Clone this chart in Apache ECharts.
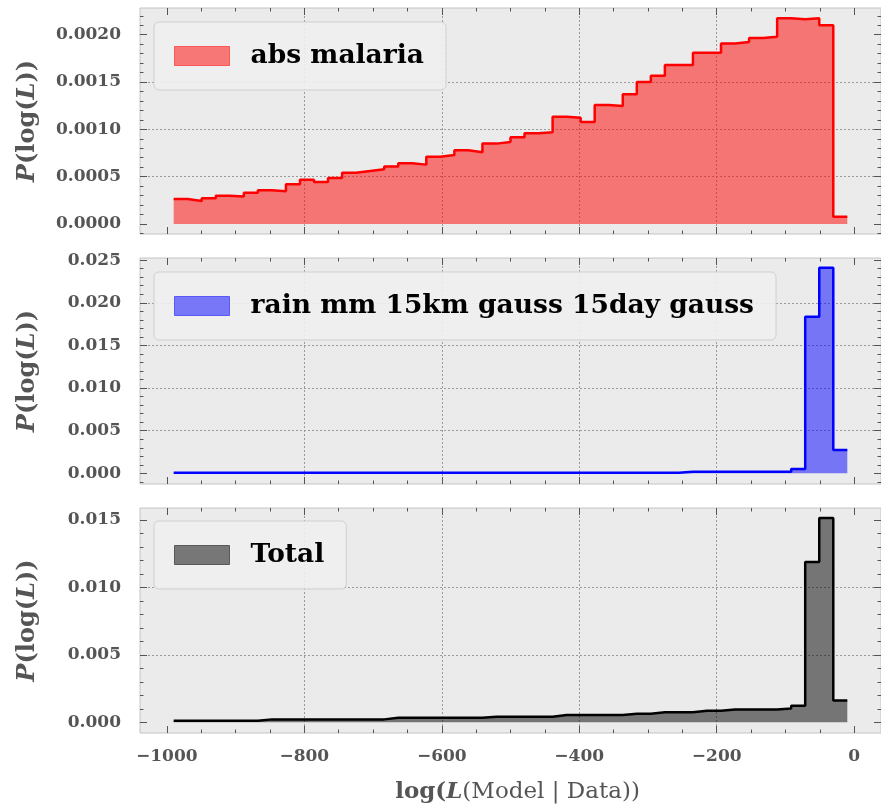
<!DOCTYPE html>
<html>
<head>
<meta charset="utf-8">
<script src="https://cdn.jsdelivr.net/npm/echarts@6/dist/echarts.min.js"></script>
<style>
  html, body { margin: 0; padding: 0; background: #fff; }
  #chart { width: 881px; height: 805px; }
</style>
</head>
<body>
<div id="chart"></div>
<script>
// histogram bins: 48 bins between -990 and -10
const binMin = -990
const binMax = -10
const binCount = 48

const malaria = [
  0.000264, 0.000243, 0.000271, 0.000299, 0.000289, 0.000331, 0.000356, 0.000345,
  0.000419, 0.000468, 0.000444, 0.000486, 0.000542, 0.000560, 0.000577, 0.000606,
  0.000641, 0.000627, 0.000711, 0.000729, 0.000778, 0.000757, 0.000849, 0.000866,
  0.000915, 0.000958, 0.000968, 0.001134, 0.001123, 0.001077, 0.001257, 0.001246,
  0.001370, 0.001500, 0.001567, 0.001680, 0.001680, 0.001810, 0.001810, 0.001908,
  0.001923, 0.001965, 0.001979, 0.002173, 0.002162, 0.002173, 0.002099, 0.0000775
]
const rain = [
  0.00008, 0.00008, 0.00008, 0.00008, 0.00008, 0.00008, 0.00008, 0.00008,
  0.00008, 0.00008, 0.00008, 0.00008, 0.00008, 0.00008, 0.00008, 0.00008,
  0.00008, 0.00008, 0.00008, 0.00008, 0.00008, 0.00008, 0.00008, 0.00008,
  0.00008, 0.00008, 0.00008, 0.00008, 0.00008, 0.00008, 0.00008, 0.00008,
  0.00008, 0.00008, 0.00008, 0.00008, 0.0002, 0.0002, 0.0002, 0.0002,
  0.0002, 0.0002, 0.0002, 0.0002, 0.00052, 0.01836, 0.0241, 0.00273
]
const total = [
  0.00012, 0.00012, 0.00012, 0.00012, 0.00012, 0.00012, 0.00022, 0.00022,
  0.00022, 0.00022, 0.00022, 0.00022, 0.00022, 0.00022, 0.00022, 0.00034,
  0.00034, 0.00034, 0.00034, 0.00034, 0.00034, 0.00034, 0.00042, 0.00042,
  0.00042, 0.00042, 0.00042, 0.00054, 0.00054, 0.00054, 0.00054, 0.00054,
  0.00064, 0.00064, 0.00074, 0.00074, 0.00074, 0.00086, 0.00086, 0.00096,
  0.00096, 0.00096, 0.00096, 0.00103, 0.00123, 0.01189, 0.01515, 0.00162
]

const xTicks = [-1000, -800, -600, -400, -200, 0]
const yTicksTop = [0, 0.0005, 0.001, 0.0015, 0.002]
const yTicksMid = [0, 0.005, 0.01, 0.015, 0.02, 0.025]
const yTicksBot = [0, 0.005, 0.01, 0.015]

const xRange = [-1039, 39]
const panels = [
  { name: 'abs malaria', values: malaria, line: '#ff0000', fill: 'rgba(255,0,0,0.5)',
    yRange: [-0.000106, 0.002282], ticks: yTicksTop, minorStep: 0.0001, digits: 4, top: 8, legendTop: 22 },
  { name: 'rain mm 15km gauss 15day gauss', values: rain, line: '#0000ff', fill: 'rgba(0,0,255,0.5)',
    yRange: [-0.00125, 0.02525], ticks: yTicksMid, minorStep: 0.001, digits: 3, top: 258, legendTop: 272 },
  { name: 'Total', values: total, line: '#000000', fill: 'rgba(0,0,0,0.5)',
    yRange: [-0.00079, 0.01589], ticks: yTicksBot, minorStep: 0.001, digits: 3, top: 508, legendTop: 521 }
]

const font = 'DejaVu Serif'
const labelColor = '#555555'
const tickColor = '#555555'

function minorValues(range, step, majors) {
  const out = []
  const start = Math.ceil(range[0] / step)
  const end = Math.floor(range[1] / step)
  for (let k = start; k <= end; k++) {
    const v = +(k * step).toFixed(8)
    if (!majors.some(m => Math.abs(m - v) < step / 100)) out.push(v)
  }
  return out
}

function fmt(v, digits) {
  const s = Math.abs(v).toFixed(digits)
  return v < 0 ? '\u2212' + s : s
}

const edges = []
for (let i = 0; i <= binCount; i++) edges.push(binMin + (binMax - binMin) * i / binCount)

const grids = []
const xAxes = []
const yAxes = []
const series = []
const legends = []

function tickAxis(base, values, len) {
  return Object.assign({}, base, {
    axisLine: { show: false, onZero: false },
    axisTick: { show: true, inside: true, length: len, customValues: values,
      lineStyle: { color: tickColor, width: 1 } },
    axisLabel: { show: false },
    splitLine: { show: false }
  })
}

panels.forEach((p, g) => {
  grids.push({
    left: 140, top: p.top, width: 745, height: 226,
    show: true, backgroundColor: '#ebebeb', borderColor: '#c4c4c4', borderWidth: 1
  })

  const xMinor = minorValues(xRange, 50, xTicks)
  const yMinor = minorValues(p.yRange, p.minorStep, p.ticks)
  const xBase = { type: 'value', gridIndex: g, min: xRange[0], max: xRange[1] }
  const yBase = { type: 'value', gridIndex: g, min: p.yRange[0], max: p.yRange[1] }
  const isLast = g === panels.length - 1

  // main bottom axis: grid lines and (for last panel) labels
  xAxes.push(Object.assign({}, xBase, {
    position: 'bottom',
    splitNumber: 5,
    axisLine: { show: false, onZero: false },
    axisTick: { show: true, inside: true, length: 7, customValues: xTicks,
      lineStyle: { color: tickColor } },
    axisLabel: {
      show: isLast, customValues: xTicks, margin: 15,
      formatter: v => fmt(v, 0),
      fontFamily: font, fontWeight: 'bold', fontSize: 17, color: labelColor
    },
    splitLine: { show: true, showMinLine: false, showMaxLine: false,
      lineStyle: { color: '#9a9a9a', type: [2, 2], width: 1 } },
    name: isLast ? '{b|log(}{bi|L}{r|(Model | Data))}' : '',
    nameLocation: 'middle',
    nameGap: 48,
    nameTextStyle: {
      padding: [0, 0, 0, 14],
      rich: {
        b: { fontFamily: font, fontWeight: 'bold', fontSize: 23, color: labelColor },
        bi: { fontFamily: font, fontWeight: 'bold', fontStyle: 'italic', fontSize: 23, color: labelColor },
        r: { fontFamily: font, fontSize: 23, color: labelColor }
      }
    }
  }))
  xAxes.push(tickAxis(Object.assign({ position: 'bottom' }, xBase), xMinor, 3.5))
  xAxes.push(tickAxis(Object.assign({ position: 'top' }, xBase), xTicks, 7))
  xAxes.push(tickAxis(Object.assign({ position: 'top' }, xBase), xMinor, 3.5))

  yAxes.push(Object.assign({}, yBase, {
    position: 'left',
    axisLine: { show: false, onZero: false },
    axisTick: { show: true, inside: true, length: 7, customValues: p.ticks,
      lineStyle: { color: tickColor } },
    axisLabel: {
      customValues: p.ticks, margin: 19,
      formatter: v => fmt(v, p.digits),
      fontFamily: font, fontWeight: 'bold', fontSize: 17, color: labelColor
    },
    splitLine: { show: true, showMinLine: false, showMaxLine: false,
      lineStyle: { color: '#9a9a9a', type: [2, 2], width: 1 } },
    name: '{bi|P}{b|(log(}{bi|L}{b|))}',
    nameLocation: 'middle',
    nameGap: 100,
    nameRotate: 90,
    nameTextStyle: {
      rich: {
        b: { fontFamily: font, fontWeight: 'bold', fontSize: 24, color: labelColor },
        bi: { fontFamily: font, fontWeight: 'bold', fontStyle: 'italic', fontSize: 24, color: labelColor }
      }
    }
  }))
  yAxes.push(tickAxis(Object.assign({ position: 'left' }, yBase), yMinor, 3.5))
  yAxes.push(tickAxis(Object.assign({ position: 'right' }, yBase), p.ticks, 7))
  yAxes.push(tickAxis(Object.assign({ position: 'right' }, yBase), yMinor, 3.5))

  series.push({
    name: p.name,
    type: 'line',
    xAxisIndex: g * 4,
    yAxisIndex: g * 4,
    step: 'end',
    symbol: 'none',
    silent: true,
    animation: false,
    data: edges.map((e, i) => [e, p.values[Math.min(i, binCount - 1)]]),
    lineStyle: { color: p.line, width: 2.5 },
    itemStyle: { color: p.line },
    areaStyle: { color: p.fill, opacity: 1 }
  })

  legends.push({
    left: 154,
    top: p.legendTop,
    orient: 'vertical',
    selectedMode: false,
    backgroundColor: 'rgba(240,240,240,0.9)',
    borderColor: '#cfcfcf',
    borderWidth: 1,
    borderRadius: 5,
    padding: [19, 22, 19, 20],
    itemWidth: 55,
    itemHeight: 19,
    data: [{
      name: p.name,
      icon: 'rect',
      itemStyle: { color: p.fill, borderColor: p.fill, borderWidth: 1 }
    }],
    textStyle: {
      fontFamily: font, fontWeight: 'bold', fontSize: 26.5, color: '#000',
      lineHeight: 30, padding: [0, 0, 0, 16]
    }
  })
})

const chart = echarts.init(document.getElementById('chart'), null, { renderer: 'canvas' })
chart.setOption({
  backgroundColor: '#ffffff',
  animation: false,
  grid: grids,
  xAxis: xAxes,
  yAxis: yAxes,
  legend: legends,
  series: series
})
</script>
</body>
</html>
